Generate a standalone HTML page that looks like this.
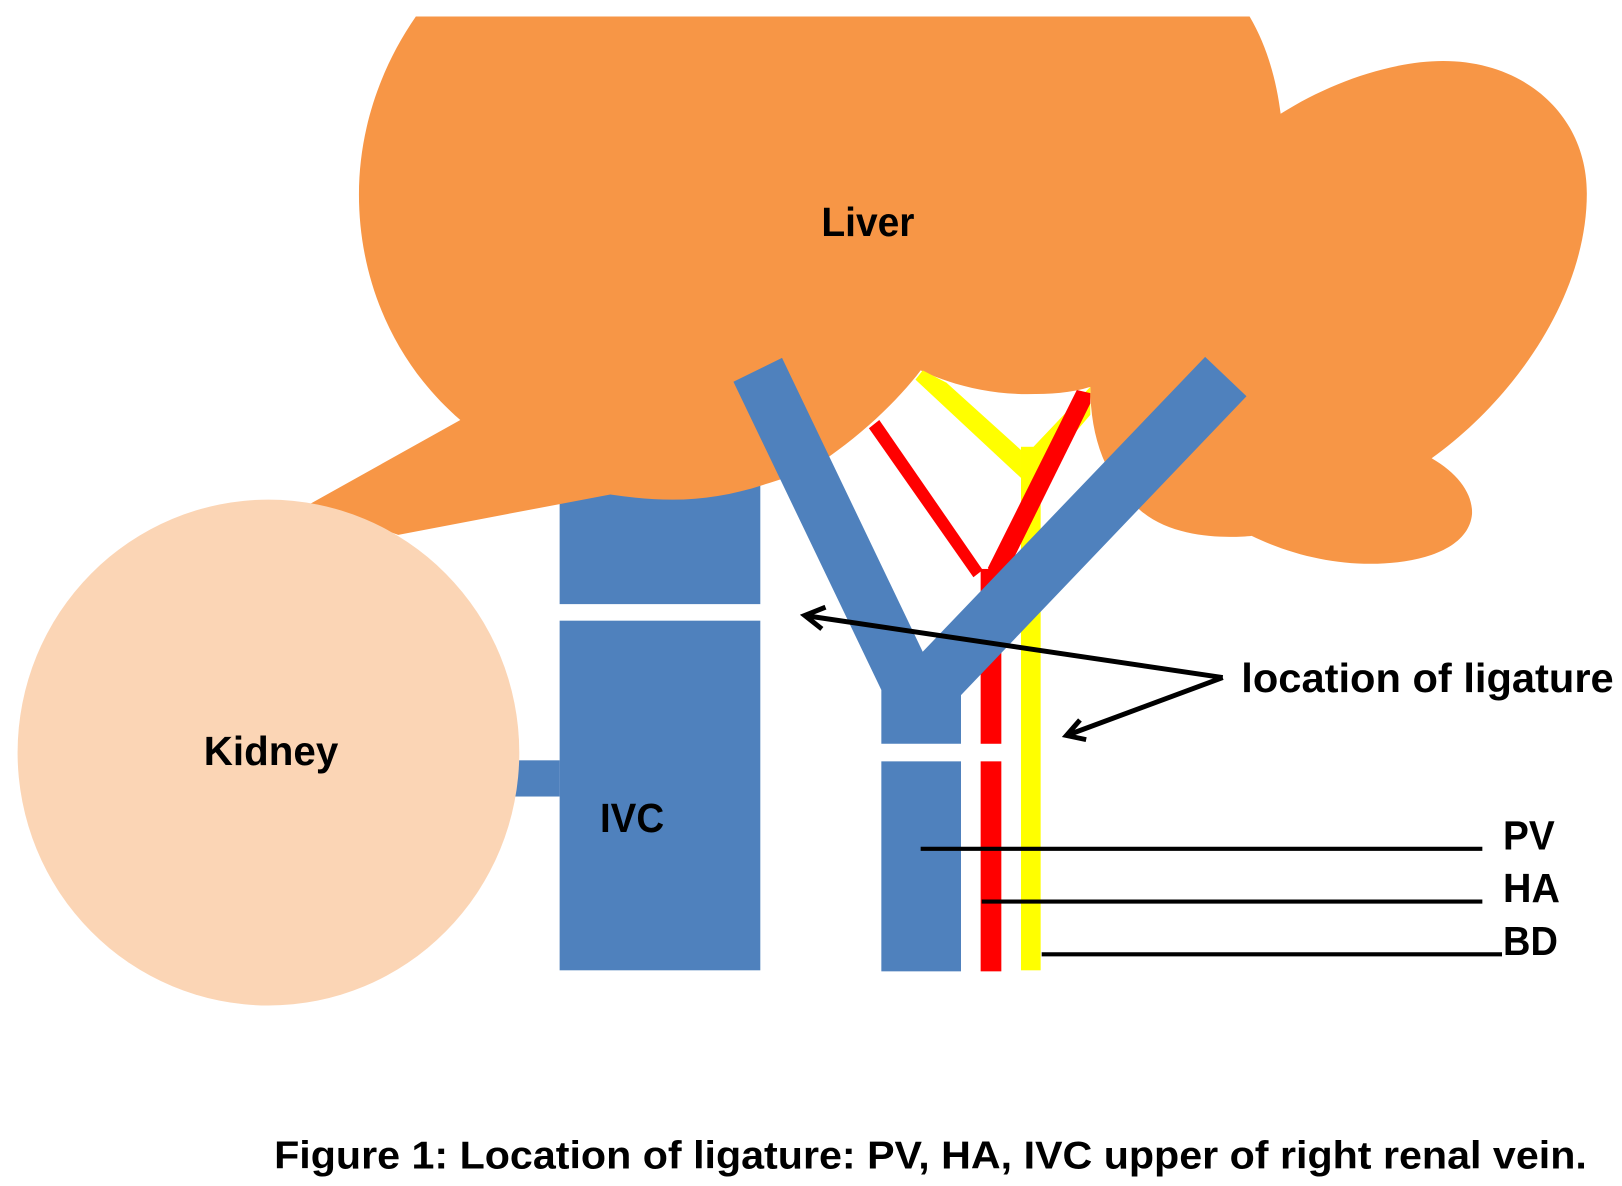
<!DOCTYPE html>
<html>
<head>
<meta charset="utf-8">
<style>
html,body{margin:0;padding:0;background:#fff;width:1622px;height:1186px;overflow:hidden}
svg{display:block}
text{font-family:"Liberation Sans",sans-serif;font-weight:bold;fill:#000}
</style>
</head>
<body>
<svg width="1622" height="1186" viewBox="0 0 1568 1146.5" xmlns="http://www.w3.org/2000/svg">
<rect x="0" y="0" width="1568" height="1146.5" fill="#fff"/>
<!-- IVC -->
<rect x="541" y="460" width="194" height="124" fill="#4F81BD"/>
<rect x="541" y="600" width="194" height="338" fill="#4F81BD"/>
<rect x="495" y="735" width="46" height="35" fill="#4F81BD"/>
<!-- Liver -->
<path fill="#F79646" d="M1238,110 C1285,80 1345,59 1395,59 C1475,59 1534,112 1534,187 C1534,285 1465,385 1384,443 C1410,458 1424,478 1423,497 C1420,530 1375,545 1325,545 C1285,545 1245,535 1210,518 C1190,520 1135,522 1102,493 C1070,465 1054,425 1054,374 C1035,380 1015,381 993,381 C955,381 920,372 890,358 C868,387 835,418 802,441 C780,455 760,462 740,468 C710,478 680,483 650,483 C630,483 610,481 590,478 L385,517 L300,487 L445,406 C380,350 347,270 347,188 C347,125 368,65 402,16 L1208,16 C1225,45 1234,78 1238,110 Z"/>
<!-- Yellow BD -->
<rect x="987" y="432" width="19" height="506" fill="#FFFF00"/>
<polygon fill="#FFFF00" points="885,367 892,358 915,370 987,435 987,462"/>
<polygon fill="#FFFF00" points="987,432 999,432 1054,374 1054,401 1006,457 987,470"/>
<!-- Red HA -->
<rect x="948" y="550" width="20" height="169" fill="#FF0000"/>
<rect x="948" y="736" width="20" height="203" fill="#FF0000"/>
<polygon fill="#FF0000" points="840,414 850,406 950,551 941,558"/>
<polygon fill="#FF0000" points="1041,377 1054,380 1054,390 965,570 955,549"/>
<!-- PV -->
<rect x="852" y="736" width="77" height="203" fill="#4F81BD"/>
<polygon fill="#4F81BD" points="852,719 929,719 929,672 1205,383 1165,345 892,630 756,346 709,369 852,667"/>
<!-- Kidney -->
<ellipse cx="259.5" cy="727.5" rx="242.5" ry="244.5" fill="#FBD5B5"/>
<!-- Lines -->
<g fill="none" stroke="#000" stroke-width="4">
<path d="M890,820.5H1433"/>
<path d="M949,871.5H1433"/>
<path d="M1007,922.5H1452"/>
</g>
<g fill="none" stroke="#000" stroke-width="4.8">
<path d="M1182,655 L778,595"/>
<path d="M798,587 L778,595 L794.5,608"/>
<path d="M1182,655 L1031,711"/>
<path d="M1044,696 L1031,711 L1050,715"/>
</g>
<!-- Labels -->
<text x="794" y="228" font-size="39" textLength="90" lengthAdjust="spacingAndGlyphs">Liver</text>
<text x="197" y="739.5" font-size="39" textLength="130" lengthAdjust="spacingAndGlyphs">Kidney</text>
<text x="580" y="804.5" font-size="39" textLength="62" lengthAdjust="spacingAndGlyphs">IVC</text>
<text x="1200" y="669" font-size="39" textLength="360" lengthAdjust="spacingAndGlyphs">location of ligature</text>
<text x="1453" y="821" font-size="39" textLength="50" lengthAdjust="spacingAndGlyphs">PV</text>
<text x="1453" y="872" font-size="39" textLength="55" lengthAdjust="spacingAndGlyphs">HA</text>
<text x="1453" y="923" font-size="39" textLength="53" lengthAdjust="spacingAndGlyphs">BD</text>
<text x="265" y="1129.5" font-size="38" textLength="1269" lengthAdjust="spacingAndGlyphs">Figure 1: Location of ligature: PV, HA, IVC upper of right renal vein.</text>
</svg>
</body>
</html>
